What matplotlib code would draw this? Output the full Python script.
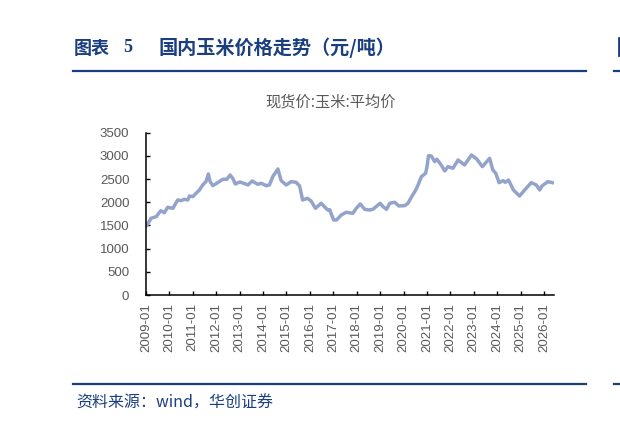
import numpy as np
import pandas as pd
import matplotlib
matplotlib.use('Agg')
import matplotlib.pyplot as plt
import matplotlib.dates as mdates
from matplotlib.lines import Line2D

plt.rcParams['font.family'] = ['Noto Sans CJK SC', 'DejaVu Sans']

# 现货价:玉米:平均价 (元/吨)
dates = ['2009-01-05', '2009-02-10', '2009-03-20', '2009-06-10', '2009-08-20', '2009-10-15',
         '2009-12-05', '2010-02-25', '2010-05-10', '2010-07-01', '2010-08-25', '2010-10-15',
         '2010-11-10', '2011-01-01', '2011-02-20', '2011-04-15', '2011-06-05', '2011-07-25',
         '2011-09-01', '2011-09-28', '2011-11-10', '2012-01-25', '2012-04-10', '2012-06-15',
         '2012-08-05', '2012-09-15', '2012-10-25', '2013-01-01', '2013-03-05', '2013-05-10',
         '2013-07-15', '2013-10-10', '2013-12-01', '2014-02-20', '2014-04-10', '2014-06-01',
         '2014-08-20', '2014-10-10', '2014-12-28', '2015-03-15', '2015-06-01', '2015-07-25',
         '2015-09-10', '2015-11-25', '2016-01-20', '2016-03-28', '2016-06-25', '2016-08-15',
         '2016-10-05', '2016-11-05', '2017-01-05', '2017-02-20', '2017-05-05', '2017-07-20',
         '2017-11-01', '2017-12-25', '2018-02-25', '2018-05-05', '2018-07-20', '2018-09-10',
         '2019-01-01', '2019-02-15', '2019-04-10', '2019-06-01', '2019-08-15', '2019-10-20',
         '2020-01-20', '2020-03-10', '2020-05-01', '2020-07-10', '2020-08-15', '2020-10-05',
         '2020-12-10', '2021-01-01', '2021-01-25', '2021-03-10', '2021-05-01', '2021-06-05',
         '2021-08-10', '2021-10-05', '2021-11-25', '2022-02-10', '2022-05-01', '2022-08-10',
         '2022-11-25', '2023-02-15', '2023-05-15', '2023-09-05', '2023-10-25', '2023-12-10',
         '2024-01-30', '2024-04-01', '2024-05-05', '2024-06-25', '2024-09-10', '2024-12-15',
         '2025-03-05', '2025-06-15', '2025-09-01', '2025-10-25', '2025-12-05', '2026-03-01',
         '2026-05-10']
price = [1490, 1560, 1654, 1690, 1819, 1776,
         1891, 1870, 2049, 2035, 2064, 2049,
         2135, 2121, 2193, 2265, 2373, 2444,
         2610, 2444, 2358, 2423, 2495, 2495,
         2588, 2516, 2394, 2437, 2410, 2373,
         2459, 2387, 2409, 2358, 2373, 2552,
         2718, 2466, 2373, 2444, 2430, 2351,
         2049, 2085, 2028, 1870, 1978, 1905,
         1833, 1840, 1618, 1618, 1726, 1784,
         1762, 1870, 1963, 1848, 1833, 1848,
         1978, 1905, 1848, 1978, 2000, 1920,
         1927, 1978, 2107, 2265, 2373, 2552,
         2624, 2768, 3005, 2998, 2876, 2927,
         2804, 2675, 2768, 2733, 2912, 2804,
         3020, 2934, 2768, 2948, 2696, 2624,
         2423, 2466, 2430, 2480, 2265, 2135,
         2265, 2423, 2373, 2265, 2358, 2444,
         2423]
xticks = pd.date_range('2009-01-01', '2026-01-01', freq='YS')
yticks = [0, 500, 1000, 1500, 2000, 2500, 3000, 3500]

navy = '#1b3f7e'
grey = '#595959'

fig = plt.figure(figsize=(6.2, 4.21), dpi=100)
ax = fig.add_axes([146/620, 1-295/421, (554-146)/620, (295-132.7)/421])

ax.plot(pd.to_datetime(dates), price, color='#93a3cb', lw=2.5, solid_joinstyle='round')

ax.set_xlim(pd.Timestamp('2009-01-01'), pd.Timestamp('2026-06-05'))
ax.set_ylim(0, 3500)
ax.set_xticks(xticks)
ax.xaxis.set_major_formatter(mdates.DateFormatter('%Y-%m'))
ax.set_yticks(yticks)

for s in ['top', 'right']:
    ax.spines[s].set_visible(False)
for s in ['left', 'bottom']:
    ax.spines[s].set_linewidth(1.1)
ax.tick_params(axis='both', direction='in', length=3, width=1.0, colors='k')
ax.tick_params(axis='x', pad=6, labelrotation=90)
ax.tick_params(axis='y', pad=12)
for lab in ax.get_xticklabels() + ax.get_yticklabels():
    lab.set_family('Liberation Sans')
    lab.set_fontsize(9.5)
    lab.set_color(grey)

fig.text(331/620, 1-102/421, '现货价:玉米:平均价', ha='center', va='center',
         fontsize=11, color=grey)

# header / footer
ty = 1 - 48/421
fig.text(74/620, ty, '图表', ha='left', va='center', fontsize=13, fontweight='bold', color=navy)
fig.text(123/620, ty, '5', ha='left', va='center', fontsize=13, fontweight='bold', color=navy,
         family='Liberation Serif')
fig.text(159/620, ty, '国内玉米价格走势（元/吨）', ha='left', va='center',
         fontsize=13.8, fontweight='bold', color=navy)
fig.add_artist(Line2D([619/620]*2, [1-38/421, 1-55/421], color=navy, lw=2))
fig.text(76/620, 1-403/421, '资料来源：wind，华创证券', ha='left', va='center',
         fontsize=11.5, color=navy, style='italic')
for yy in [71, 384]:
    fig.add_artist(Line2D([73/620, 586/620], [1-yy/421]*2, color=navy, lw=1.6))
    fig.add_artist(Line2D([614/620, 1.0], [1-yy/421]*2, color=navy, lw=1.6))

fig.savefig('out.png', dpi=100)
